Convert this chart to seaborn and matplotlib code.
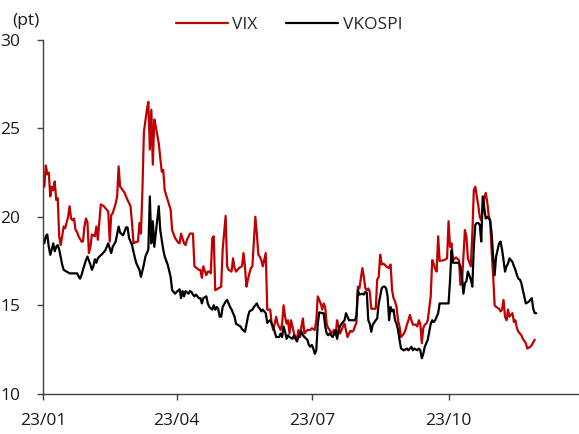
import pandas as pd
import matplotlib.pyplot as plt
import matplotlib.dates as mdates
import seaborn as sns

# VIX, dates are 2023 MM-DD
vix_dates = [
    '01-02', '01-03', '01-04', '01-05', '01-06', '01-07', '01-08', '01-09', '01-10', '01-11',
    '01-12', '01-13', '01-14', '01-15', '01-16', '01-18', '01-19', '01-20', '01-21', '01-22',
    '01-23', '01-24', '01-25', '01-27', '01-28', '01-29', '01-30', '01-31', '02-01', '02-02',
    '02-03', '02-05', '02-06', '02-07', '02-09', '02-11', '02-13', '02-14', '02-15', '02-16',
    '02-17', '02-19', '02-20', '02-21', '02-22', '02-23', '02-25', '02-27', '03-01', '03-02',
    '03-03', '03-04', '03-06', '03-07', '03-08', '03-09', '03-10', '03-12', '03-13', '03-14',
    '03-15', '03-16', '03-17', '03-18', '03-20', '03-22', '03-23', '03-24', '03-26', '03-28',
    '03-29', '03-31', '04-02', '04-03', '04-04', '04-06', '04-07', '04-08', '04-10', '04-12',
    '04-13', '04-16', '04-17', '04-18', '04-19', '04-21', '04-22', '04-23', '04-24', '04-25',
    '04-26', '04-27', '04-29', '05-01', '05-02', '05-04', '05-05', '05-06', '05-08', '05-09',
    '05-10', '05-11', '05-12', '05-13', '05-15', '05-16', '05-17', '05-18', '05-19', '05-20',
    '05-21', '05-22', '05-24', '05-25', '05-26', '05-27', '05-28', '05-29', '05-31', '06-01',
    '06-03', '06-04', '06-05', '06-06', '06-07', '06-08', '06-10', '06-11', '06-12', '06-13',
    '06-14', '06-15', '06-16', '06-17', '06-19', '06-20', '06-21', '06-22', '06-23', '06-24',
    '06-25', '06-26', '06-28', '06-30', '07-01', '07-03', '07-04', '07-05', '07-07', '07-08',
    '07-09', '07-10', '07-11', '07-12', '07-13', '07-14', '07-16', '07-17', '07-18', '07-19',
    '07-20', '07-21', '07-22', '07-23', '07-25', '07-26', '07-27', '07-28', '07-29', '07-30',
    '07-31', '08-01', '08-02', '08-04', '08-05', '08-06', '08-07', '08-08', '08-09', '08-10',
    '08-11', '08-13', '08-14', '08-15', '08-16', '08-17', '08-18', '08-19', '08-20', '08-22',
    '08-23', '08-24', '08-25', '08-26', '08-27', '08-28', '08-29', '08-30', '09-01', '09-02',
    '09-03', '09-04', '09-05', '09-06', '09-07', '09-09', '09-10', '09-11', '09-12', '09-13',
    '09-14', '09-15', '09-16', '09-17', '09-19', '09-20', '09-21', '09-22', '09-23', '09-24',
    '09-25', '09-28', '09-30', '10-01', '10-02', '10-03', '10-04', '10-06', '10-08', '10-09',
    '10-10', '10-11', '10-12', '10-13', '10-14', '10-16', '10-17', '10-18', '10-19', '10-20',
    '10-21', '10-22', '10-23', '10-25', '10-26', '10-27', '10-28', '10-29', '10-30', '10-31',
    '11-01', '11-02', '11-04', '11-05', '11-06', '11-07', '11-08', '11-09', '11-10', '11-11',
    '11-13', '11-14', '11-15', '11-16', '11-17', '11-18', '11-19', '11-20', '11-22', '11-23',
    '11-25', '11-26', '11-28',
]
vix_values = [
    21.7, 22.9, 22.4, 22.5, 21.15, 21.7, 21.5, 22.0, 20.95, 21.05,
    18.9, 18.4, 18.9, 19.45, 19.35, 20.0, 20.6, 19.9, 19.8, 19.9,
    19.25, 19.15, 18.9, 18.6, 18.6, 19.45, 19.9, 19.7, 17.95, 18.3,
    19.0, 18.9, 19.45, 18.7, 20.7, 20.6, 20.4, 20.3, 18.6, 20.1,
    20.2, 20.75, 21.15, 22.85, 21.7, 21.6, 21.35, 20.95, 20.6, 19.65,
    18.5, 18.55, 18.6, 19.65, 19.05, 21.5, 24.8, 26.05, 26.5, 23.8,
    26.05, 22.95, 25.5, 25.1, 24.15, 22.55, 22.65, 21.5, 20.95, 20.4,
    19.25, 18.8, 18.55, 18.5, 19.05, 18.5, 18.4, 18.7, 19.05, 19.05,
    17.2, 17.0, 17.0, 16.55, 17.2, 16.7, 16.9, 16.9, 16.8, 18.8,
    18.9, 15.85, 15.95, 16.05, 18.15, 20.05, 17.2, 17.0, 16.9, 17.65,
    17.1, 16.9, 17.0, 17.1, 17.2, 17.95, 17.2, 16.05, 16.45, 16.8,
    17.1, 17.2, 20.0, 19.05, 17.85, 17.75, 17.55, 17.2, 17.95, 14.75,
    14.75, 13.95, 13.6, 13.95, 14.35, 13.95, 13.6, 13.95, 15.0, 14.35,
    13.95, 14.15, 13.4, 14.15, 13.4, 13.2, 13.1, 13.6, 13.2, 13.8,
    14.25, 13.4, 13.6, 13.6, 13.7, 13.6, 14.15, 15.5, 15.1, 14.75,
    15.1, 14.9, 13.95, 13.7, 13.6, 13.4, 13.6, 13.3, 14.15, 13.8,
    13.4, 13.6, 13.8, 13.95, 13.2, 13.4, 13.55, 13.5, 13.55, 13.8,
    14.0, 16.05, 15.95, 17.1, 16.6, 15.95, 15.85, 15.95, 15.75, 14.8,
    14.8, 14.8, 16.45, 16.6, 17.85, 17.3, 17.35, 17.3, 17.2, 17.1,
    17.3, 15.85, 15.4, 15.2, 14.9, 14.15, 13.8, 13.2, 13.4, 13.6,
    13.9, 14.15, 14.45, 14.15, 13.9, 13.9, 13.8, 14.15, 13.95, 12.85,
    13.7, 13.9, 13.95, 14.15, 15.5, 17.55, 17.35, 17.05, 16.9, 18.9,
    17.5, 17.55, 17.65, 19.75, 18.3, 18.5, 17.55, 17.7, 17.55, 16.15,
    16.25, 17.75, 19.25, 18.9, 17.65, 17.2, 19.05, 21.5, 21.7, 21.15,
    20.65, 20.0, 19.8, 21.05, 21.35, 20.85, 20.1, 19.75, 18.05, 16.7,
    15.0, 14.9, 14.8, 14.65, 14.75, 15.3, 14.35, 14.15, 14.75, 14.35,
    14.55, 14.05, 14.15, 13.7, 13.5, 13.4, 13.3, 13.1, 12.85, 12.55,
    12.65, 12.75, 13.05,
]

# VKOSPI
vkospi_dates = [
    '01-02', '01-03', '01-04', '01-05', '01-06', '01-07', '01-08', '01-09', '01-10', '01-11',
    '01-12', '01-14', '01-15', '01-17', '01-19', '01-24', '01-26', '01-27', '01-28', '01-30',
    '01-31', '02-02', '02-03', '02-04', '02-05', '02-06', '02-07', '02-08', '02-10', '02-12',
    '02-14', '02-16', '02-17', '02-19', '02-21', '02-22', '02-24', '02-26', '02-27', '02-28',
    '03-02', '03-04', '03-05', '03-07', '03-08', '03-10', '03-11', '03-13', '03-14', '03-15',
    '03-16', '03-17', '03-18', '03-20', '03-21', '03-23', '03-24', '03-26', '03-28', '03-29',
    '03-31', '04-01', '04-03', '04-04', '04-05', '04-06', '04-07', '04-09', '04-10', '04-11',
    '04-12', '04-13', '04-14', '04-16', '04-17', '04-18', '04-19', '04-21', '04-22', '04-23',
    '04-25', '04-26', '04-27', '04-28', '04-29', '04-30', '05-01', '05-02', '05-04', '05-05',
    '05-06', '05-07', '05-08', '05-09', '05-10', '05-11', '05-12', '05-14', '05-15', '05-17',
    '05-18', '05-19', '05-20', '05-22', '05-23', '05-24', '05-25', '05-26', '05-27', '05-28',
    '05-29', '05-31', '06-01', '06-02', '06-03', '06-04', '06-05', '06-06', '06-07', '06-09',
    '06-10', '06-11', '06-12', '06-13', '06-14', '06-15', '06-16', '06-18', '06-19', '06-20',
    '06-21', '06-22', '06-23', '06-24', '06-25', '06-26', '06-28', '06-29', '06-30', '07-01',
    '07-02', '07-03', '07-04', '07-05', '07-06', '07-08', '07-09', '07-10', '07-11', '07-12',
    '07-13', '07-14', '07-15', '07-17', '07-18', '07-19', '07-20', '07-21', '07-22', '07-23',
    '07-24', '07-26', '07-28', '07-30', '07-31', '08-01', '08-02', '08-04', '08-05', '08-06',
    '08-07', '08-08', '08-09', '08-10', '08-11', '08-13', '08-14', '08-15', '08-16', '08-17',
    '08-18', '08-19', '08-20', '08-21', '08-22', '08-23', '08-24', '08-25', '08-26', '08-27',
    '08-28', '08-29', '08-30', '09-01', '09-03', '09-04', '09-06', '09-07', '09-08', '09-10',
    '09-11', '09-12', '09-13', '09-14', '09-15', '09-16', '09-17', '09-19', '09-20', '09-21',
    '09-22', '09-23', '09-24', '09-25', '09-29', '10-01', '10-02', '10-03', '10-04', '10-08',
    '10-09', '10-10', '10-11', '10-12', '10-13', '10-14', '10-16', '10-17', '10-18', '10-19',
    '10-20', '10-21', '10-22', '10-23', '10-24', '10-26', '10-27', '10-28', '10-29', '10-30',
    '10-31', '11-01', '11-02', '11-04', '11-05', '11-06', '11-07', '11-08', '11-09', '11-10',
    '11-11', '11-13', '11-14', '11-15', '11-16', '11-17', '11-18', '11-19', '11-20', '11-22',
    '11-24', '11-25', '11-26', '11-27', '11-28', '11-29',
]
vkospi_values = [
    18.5, 18.9, 19.0, 18.3, 17.85, 18.15, 18.5, 18.05, 18.3, 18.4,
    18.15, 17.3, 17.0, 16.9, 16.8, 16.8, 16.5, 16.7, 17.0, 17.55,
    17.75, 17.3, 17.0, 17.2, 17.6, 17.4, 17.65, 17.75, 17.9, 18.1,
    18.5, 17.95, 18.3, 18.6, 19.45, 19.1, 18.95, 19.4, 19.4, 18.8,
    18.4, 17.65, 17.35, 17.0, 16.6, 17.3, 17.75, 18.15, 21.15, 18.5,
    19.75, 18.3, 19.05, 20.6, 19.25, 18.15, 17.75, 17.3, 16.6, 15.85,
    15.65, 15.75, 15.9, 15.4, 15.8, 15.5, 15.8, 15.65, 15.8, 15.75,
    15.6, 15.5, 15.6, 15.4, 15.4, 15.1, 15.4, 15.5, 15.1, 14.9,
    14.75, 15.0, 14.75, 14.9, 14.8, 14.35, 14.35, 14.9, 15.2, 15.3,
    15.1, 14.9, 14.75, 14.55, 14.35, 13.95, 13.9, 13.8, 13.65, 13.5,
    13.9, 14.35, 14.65, 14.75, 14.9, 15.0, 15.1, 14.9, 14.8, 14.65,
    14.75, 14.55, 14.0, 14.1, 14.15, 13.95, 13.8, 13.5, 13.2, 13.2,
    13.4, 13.2, 13.8, 13.5, 13.1, 13.3, 13.2, 13.1, 13.3, 13.1,
    12.95, 13.2, 13.3, 13.5, 13.3, 13.2, 13.05, 12.75, 12.65, 12.75,
    12.55, 12.25, 12.45, 13.95, 14.6, 14.55, 14.55, 13.8, 13.4, 13.3,
    13.4, 13.3, 13.2, 13.6, 13.1, 13.6, 13.8, 13.95, 14.05, 14.15,
    14.55, 14.15, 14.15, 14.15, 14.4, 15.85, 15.6, 15.65, 15.6, 15.75,
    15.7, 14.15, 13.95, 13.5, 13.9, 14.15, 14.25, 15.1, 15.5, 15.95,
    16.05, 16.05, 15.95, 15.5, 14.15, 14.9, 14.65, 14.75, 14.15, 13.95,
    13.6, 13.05, 12.55, 12.45, 12.55, 12.45, 12.65, 12.45, 12.55, 12.45,
    12.55, 12.45, 12.0, 12.25, 12.65, 12.85, 13.05, 13.95, 14.15, 14.05,
    14.15, 14.35, 14.55, 15.1, 15.1, 15.1, 16.4, 18.1, 17.4, 17.4,
    17.2, 16.6, 15.65, 16.25, 16.35, 16.9, 16.45, 16.05, 18.3, 19.55,
    19.65, 19.65, 19.55, 18.6, 21.15, 19.9, 20.0, 19.9, 19.8, 19.05,
    17.75, 16.7, 17.75, 18.5, 18.6, 18.15, 17.55, 16.9, 17.2, 17.35,
    17.65, 17.45, 17.2, 17.0, 16.7, 16.5, 16.45, 16.25, 15.85, 15.1,
    15.2, 15.3, 15.4, 14.8, 14.55, 14.55,
]

y_ticks = [10, 15, 20, 25, 30]
x_ticks = ['2023-01-01', '2023-04-01', '2023-07-01', '2023-10-01']

sns.set_theme(style='ticks')
plt.rcParams['font.family'] = ['Open Sans', 'DejaVu Sans']

vix = pd.DataFrame({'date': pd.to_datetime(['2023-' + d for d in vix_dates]), 'value': vix_values})
vkospi = pd.DataFrame({'date': pd.to_datetime(['2023-' + d for d in vkospi_dates]), 'value': vkospi_values})

fig = plt.figure(figsize=(5.79, 4.34), dpi=100)
ax = fig.add_axes([0.074, 0.093, 0.924, 0.815])

sns.lineplot(data=vix, x='date', y='value', color='#C00000', linewidth=1.6, label='VIX', ax=ax)
sns.lineplot(data=vkospi, x='date', y='value', color='black', linewidth=1.6, label='VKOSPI', ax=ax)

ax.set_ylim(10, 30)
ax.set_yticks(y_ticks)
ax.set_xlim(pd.Timestamp('2023-01-01'), pd.Timestamp('2023-12-27'))
ax.set_xticks(pd.to_datetime(x_ticks))
ax.xaxis.set_major_formatter(mdates.DateFormatter('%y/%m'))
ax.set_xlabel('')
ax.set_ylabel('')
ax.tick_params(axis='both', labelsize=12.5, length=4, width=1, color='#404040', labelcolor='#1a1a1a')
ax.tick_params(axis='y', pad=12)
ax.tick_params(axis='x', pad=10)
for side in ['left', 'bottom']:
    ax.spines[side].set_color('#404040')
    ax.spines[side].set_linewidth(1)
sns.despine(ax=ax)

ax.legend(loc='center', bbox_to_anchor=(0.499, 0.942), bbox_transform=fig.transFigure,
          ncol=2, frameon=False, fontsize=12.5, handlelength=3.0, handletextpad=0.25,
          columnspacing=1.65)
fig.text(0.045, 0.952, '(pt)', ha='center', va='center', fontsize=12.5, color='#1a1a1a')

fig.savefig('out.png', dpi=100)
